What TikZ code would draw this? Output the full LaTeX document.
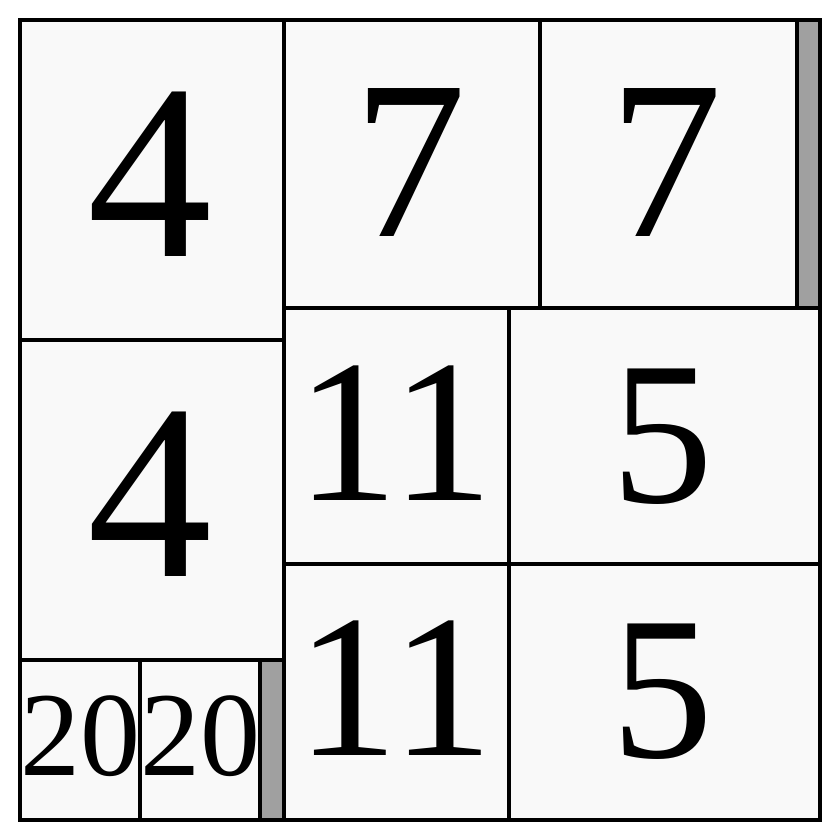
\documentclass[tikz,border=0pt]{standalone}
\usepackage{fontspec}
\setmainfont{Liberation Serif}
\definecolor{cellfill}{HTML}{F9F9F9}
\definecolor{barfill}{HTML}{A0A0A0}
\tikzset{
  cell/.style={draw=black, fill=cellfill, line width=3.8pt},
  bar/.style={draw=black, fill=barfill, line width=3.8pt},
  num/.style={anchor=base, inner sep=0pt, text=black},
}
\newcommand{\fsz}[1]{\fontsize{#1}{#1}\selectfont}
\begin{document}
\begin{tikzpicture}[x=1pt, y=-1pt]
\useasboundingbox (0,0) rectangle (840,840);
% left column
\draw[cell] (20,20) rectangle (284,340);
\draw[cell] (20,340) rectangle (284,660);
\draw[cell] (20,660) rectangle (140,820);
\draw[cell] (140,660) rectangle (260,820);
\draw[bar] (260,660) rectangle (284,820);
% right top row
\draw[cell] (284,20) rectangle (540,308);
\draw[cell] (540,20) rectangle (797,308);
\draw[bar] (797,20) rectangle (820,308);
% right middle row
\draw[cell] (284,308) rectangle (509,564);
\draw[cell] (509,308) rectangle (820,564);
% right bottom row
\draw[cell] (284,564) rectangle (509,820);
\draw[cell] (509,564) rectangle (820,820);
% labels
\node[num, font=\fsz{250}] (a) at (150,256) {4};
\node[num, font=\fsz{250}] (b) at (150,576) {4};
\node[num, font=\fsz{120}] (c) at (80,775) {20};
\node[num, font=\fsz{120}] (d) at (200,775) {20};
\node[num, font=\fsz{226}] (e) at (410,236) {7};
\node[num, font=\fsz{226}] (f) at (666,236) {7};
\node[num, font=\fsz{204}] (g) at (395,500) {11};
\node[num, font=\fsz{204}] (h) at (662,502) {5};
\node[num, font=\fsz{204}] (i) at (395,755) {11};
\node[num, font=\fsz{204}] (j) at (662,757) {5};
\end{tikzpicture}
\end{document}
